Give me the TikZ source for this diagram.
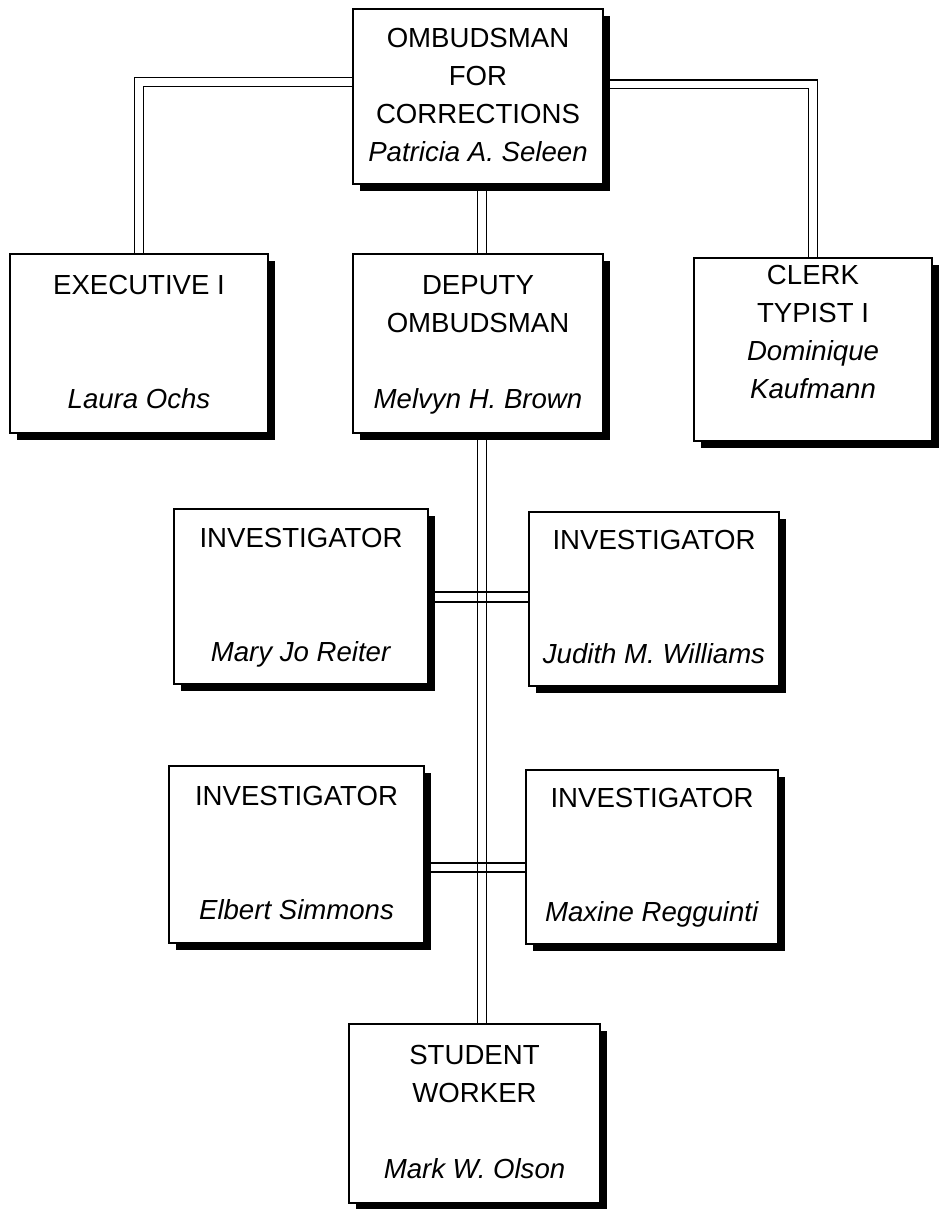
\documentclass[tikz,border=0pt]{standalone}
\usepackage{fontspec}
\setmainfont{Liberation Sans}
\usetikzlibrary{shadows}
\pgfdeclarelayer{bg}
\pgfsetlayers{bg,main}
\begin{document}
\begin{tikzpicture}[x=0.5pt,y=-0.5pt,
  orgbox/.style={draw, line width=1pt, fill=white, inner sep=0pt, align=center,
    anchor=north west, font=\fontsize{13.8}{19}\selectfont,
    drop shadow={shadow xshift=3.6pt, shadow yshift=-3.6pt, opacity=1, fill=black}},
  dbl/.style={draw, line width=0.6pt, double=white, double distance=3.8pt},
  sgl/.style={draw, line width=0.6pt}]
\useasboundingbox (0,0) rectangle (939,1209);

\node[orgbox, minimum width=125pt, minimum height=87.5pt] (top) at (352,8)
  {\strut OMBUDSMAN\\\strut FOR\\\strut CORRECTIONS\\\strut\textit{Patricia A. Seleen}};
\node[orgbox, minimum width=129pt, minimum height=89.5pt] (exec) at (9,253)
  {\strut EXECUTIVE I\\\strut\\\strut\\\strut\textit{Laura Ochs}};
\node[orgbox, minimum width=125pt, minimum height=89.5pt] (dep) at (352,253)
  {\strut DEPUTY\\\strut OMBUDSMAN\\\strut\\\strut\textit{Melvyn H. Brown}};
\node[orgbox, minimum width=119pt, minimum height=89pt] (clerk) at (693,257)
  {\strut CLERK\\\strut TYPIST I\\\strut\textit{Dominique}\\\strut\textit{Kaufmann}\rule[-21pt]{0pt}{1pt}};
\node[orgbox, minimum width=127pt, minimum height=87.5pt] (mj) at (173,508)
  {\strut INVESTIGATOR\\\strut\\\strut\\\strut\textit{Mary Jo Reiter}};
\node[orgbox, minimum width=125pt, minimum height=87pt] (jw) at (528,511)
  {\strut INVESTIGATOR\\\strut\\\strut\\\strut\textit{Judith M. Williams}};
\node[orgbox, minimum width=127.5pt, minimum height=88.5pt] (el) at (168,765)
  {\strut INVESTIGATOR\\\strut\\\strut\\\strut\textit{Elbert Simmons}};
\node[orgbox, minimum width=126pt, minimum height=87pt] (mx) at (525,769)
  {\strut INVESTIGATOR\\\strut\\\strut\\\strut\textit{Maxine Regguinti}};
\node[orgbox, minimum width=125.5pt, minimum height=89.5pt] (stu) at (348,1023)
  {\strut STUDENT\\\strut WORKER\\\strut\\\strut\textit{Mark W. Olson}};

\coordinate (spine) at (482,0);
\coordinate (jl) at (0,82);
\coordinate (jr) at (0,84.5);
\coordinate (h1a) at (0,592);
\coordinate (h1b) at (0,602);
\coordinate (h2a) at (0,863);
\coordinate (h2b) at (0,872);

\begin{pgfonlayer}{bg}
  \draw[dbl] (top.west |- jl) -| (exec.north);
  \draw[dbl] (top.east |- jr) -| (clerk.north);
  \draw[dbl] (top.south -| spine) -- (dep.north -| spine);
  \draw[dbl] (dep.south -| spine) -- (stu.north -| spine);
  \draw[sgl] (mj.east |- h1a) -- (jw.west |- h1a);
  \draw[sgl] (mj.east |- h1b) -- (jw.west |- h1b);
  \draw[sgl] (el.east |- h2a) -- (mx.west |- h2a);
  \draw[sgl] (el.east |- h2b) -- (mx.west |- h2b);
\end{pgfonlayer}
\end{tikzpicture}
\end{document}
